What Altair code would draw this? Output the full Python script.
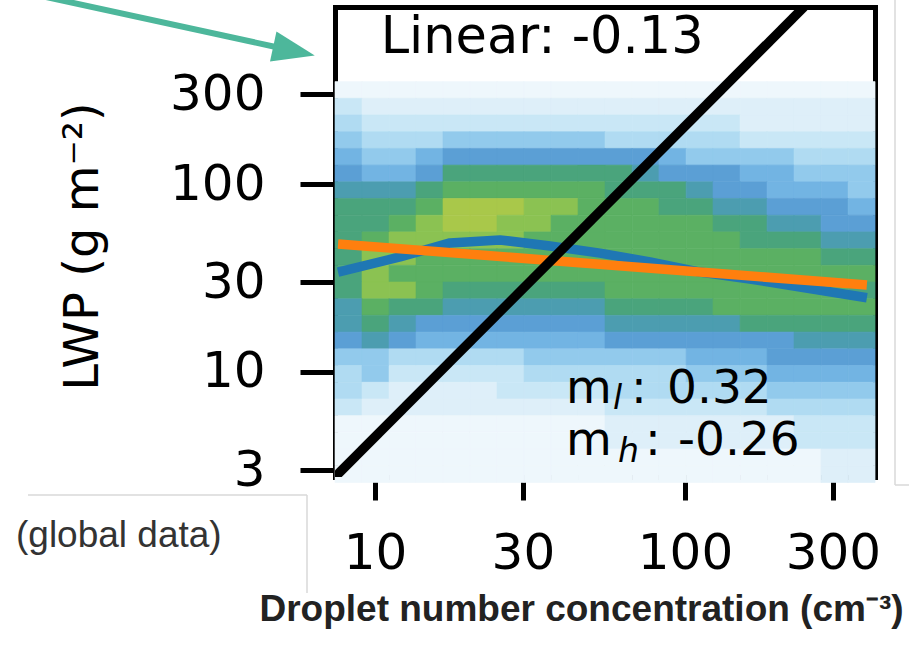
import altair as alt
import pandas as pd

# ---------------- data ----------------
# 2-D histogram bin edges (log spaced), Nd in cm^-3 and LWP in g m^-2
nd_edges = [7.43, 9.08, 11.10, 13.56, 16.57, 20.25, 24.75, 30.25, 36.97, 45.17,
            55.2, 67.5, 82.4, 100.8, 123.1, 150.5, 183.9, 224.7, 274.7, 335.7, 410.2]
lwp_edges = [795.6, 648.1, 528.2, 430.5, 351.0, 285.9, 233.0, 189.9, 154.7, 126.1,
             102.8, 83.75, 68.2, 55.6, 45.3, 36.9, 30.1, 24.5, 20.0, 16.3,
             13.27, 10.82, 8.81, 7.18, 5.85, 4.77, 3.89, 3.17, 2.58]
# density level per cell (hex digit 0..c), one string per LWP row (top -> bottom)
density_rows = [
    "00000000000000000000",
    "00000000000000000000",
    "00000000000000000000",
    "00000000000000000000",
    "11111111111111111111",
    "32222222222222222222",
    "43333333333333322222",
    "54445555554444433333",
    "65567777777765555444",
    "76679999999877766555",
    "8889aaaaaa9998776665",
    "999acccbbaaa99887776",
    "99abccbbaaaaaa998877",
    "9abbbbbaaaaaaaa99988",
    "9bbaaaaaaaaaaaaaaa99",
    "9baaaaaaaaaaaaaaaaaa",
    "9bba999999aaaaaaaaa9",
    "8a998888889999aaaaaa",
    "89877777778888899999",
    "78766666667777777888",
    "55444445555556667777",
    "45333334444445556666",
    "43222233334444445555",
    "32222222223333334444",
    "11111111112222222333",
    "11111111112222222333",
    "11111111111111111122",
    "11111111111111111122",
]
level_colors = ["#ffffff", "#eef7fc", "#deeff9", "#c9e7f6", "#b0dbf2", "#92caec",
                "#72b4e3", "#5b9fd5", "#4c9db0", "#4aa47c", "#5bb063", "#8bc252", "#a9c84a"]

# binned-mean curve (blue)
blue_nd = [7.60, 12.04, 17.46, 25.3, 36.7, 53.2, 77.1, 111.7, 162.0, 235.0, 386.0]
blue_lwp = [34.0, 40.9, 48.6, 50.4, 46.8, 42.9, 38.5, 34.0, 31.2, 28.3, 24.8]
# linear fit (orange)
orange_nd = [7.6, 386.0]
orange_lwp = [48.0, 29.0]
# reference line (black)
black_nd = [7.43, 242.0]
black_lwp = [2.76, 875.0]

nd_ticks = [10, 30, 100, 300]
lwp_ticks = [3, 10, 30, 100, 300]

linear_label = "Linear: -0.13"
ml_value = "0.32"
mh_value = "-0.26"

# ---------------- tables ----------------
cells = []
for j, row in enumerate(density_rows):
    for k, ch in enumerate(row):
        lev = int(ch, 16)
        if lev == 0:
            continue
        cells.append({"nd0": nd_edges[k], "nd1": nd_edges[k + 1],
                      "lwp0": lwp_edges[j], "lwp1": lwp_edges[j + 1], "level": lev})
heat_df = pd.DataFrame(cells)
blue_df = pd.DataFrame({"nd": blue_nd, "lwp": blue_lwp})
orange_df = pd.DataFrame({"nd": orange_nd, "lwp": orange_lwp})
black_df = pd.DataFrame({"nd": black_nd, "lwp": black_lwp})

xs = alt.Scale(type="log", domain=[7.43, 410], nice=False)
ys = alt.Scale(type="log", domain=[2.76, 875], nice=False)
cs = alt.Scale(domain=list(range(len(level_colors))), range=level_colors)

FONT = "DejaVu Sans"

heat = alt.Chart(heat_df).mark_rect(strokeWidth=0.6).encode(
    x=alt.X("nd0:Q", scale=xs, axis=alt.Axis(
        orient="bottom", values=nd_ticks, format="d", tickSize=23, labelPadding=28,
        title="Droplet number concentration (cm\u207b\u00b3)",
        titleFont="Liberation Sans",
        titleFontSize=37, titleFontWeight="bold", titleColor="#222222",
        titleX=246, titleY=143, titleAlign="center", titleBaseline="alphabetic")),
    x2="nd1:Q",
    y=alt.Y("lwp0:Q", scale=ys, axis=alt.Axis(
        orient="left", values=lwp_ticks, format="d", tickSize=35, labelPadding=35,
        title="LWP (g m\u207b\u00b2)", titleFont=FONT, titleFontSize=48,
        titleFontWeight="normal", titleColor="black", titleAngle=270,
        titleX=-238, titleY=239, titleAlign="center", titleBaseline="alphabetic")),
    y2="lwp1:Q",
    color=alt.Color("level:Q", scale=cs, legend=None),
    stroke=alt.Stroke("level:Q", scale=cs, legend=None),
)

blue = alt.Chart(blue_df).mark_line(color="#1f77b4", strokeWidth=9.5, clip=True,
                                    strokeCap="butt", strokeJoin="round").encode(
    x=alt.X("nd:Q", scale=xs, axis=None),
    y=alt.Y("lwp:Q", scale=ys, axis=None),
)

orange = alt.Chart(orange_df).mark_line(color="#ff7f0e", strokeWidth=9.5, clip=True,
                                        strokeCap="butt").encode(
    x=alt.X("nd:Q", scale=xs, axis=alt.Axis(orient="top", labels=False, ticks=False,
                                            title=None, grid=False)),
    y=alt.Y("lwp:Q", scale=ys, axis=alt.Axis(orient="right", labels=False, ticks=False,
                                             title=None, grid=False)),
)

black = alt.Chart(black_df).mark_line(color="black", strokeWidth=9.5, clip=True).encode(
    x=alt.X("nd:Q", scale=xs, axis=None),
    y=alt.Y("lwp:Q", scale=ys, axis=None),
)

lin_df = pd.DataFrame({"nd": [34.6], "lwp": [498.0], "t": [linear_label]})
lin_txt = alt.Chart(lin_df).mark_text(font=FONT, fontSize=51, align="center",
                                      baseline="alphabetic", color="black").encode(
    x=alt.X("nd:Q", scale=xs, axis=None), y=alt.Y("lwp:Q", scale=ys, axis=None), text="t:N")

m_df = pd.DataFrame({
    "nd": [41.3, 67.0, 87.5, 41.3, 74.3, 95.0],
    "lwp": [6.80, 6.80, 6.80, 3.62, 3.62, 3.62],
    "t": ["m", ":", ml_value, "m", ":", mh_value],
})
m_txt = alt.Chart(m_df).mark_text(font=FONT, fontSize=47, align="left",
                                  baseline="alphabetic", color="black").encode(
    x=alt.X("nd:Q", scale=xs, axis=None), y=alt.Y("lwp:Q", scale=ys, axis=None), text="t:N")

sub_df = pd.DataFrame({"nd": [58.6, 60.8], "lwp": [6.35, 3.32], "t": ["l", "h"]})
sub_txt = alt.Chart(sub_df).mark_text(font=FONT, fontSize=33, fontStyle="italic",
                                      align="left", baseline="alphabetic", color="black").encode(
    x=alt.X("nd:Q", scale=xs, axis=None), y=alt.Y("lwp:Q", scale=ys, axis=None), text="t:N")

one = pd.DataFrame({"a": [0]})

glob_txt = alt.Chart(one).mark_text(font="Liberation Sans", fontSize=37, align="left",
                                    baseline="alphabetic", color="#333333",
                                    text="(global data)").encode(
    x=alt.value(-319), y=alt.value(540))

gray = "#d9d9d9"
r1 = alt.Chart(one).mark_rule(color=gray, strokeWidth=1.5).encode(
    x=alt.value(-307), x2=alt.value(-28), y=alt.value(488))
r2 = alt.Chart(one).mark_rule(color=gray, strokeWidth=1.5).encode(
    x=alt.value(-28), y=alt.value(488), y2=alt.value(586))
r3 = alt.Chart(one).mark_rule(color=gray, strokeWidth=1.5).encode(
    x=alt.value(560), y=alt.value(-7), y2=alt.value(478))
r4 = alt.Chart(one).mark_rule(color=gray, strokeWidth=1.5).encode(
    x=alt.value(560), x2=alt.value(574), y=alt.value(478))

teal = "#4db79b"
arrow_line = alt.Chart(one).mark_rule(color=teal, strokeWidth=6).encode(
    x=alt.value(-289), y=alt.value(-10), x2=alt.value(-50), y2=alt.value(42))
arrow_head = alt.Chart(one).mark_point(shape="M-1,-0.72L1,0L-1,0.72Z", filled=True,
                                       size=1806, angle=12.2, color=teal, opacity=1).encode(
    x=alt.value(-41), y=alt.value(44))

chart = alt.layer(
    heat, blue, orange, black, lin_txt, m_txt, sub_txt,
    glob_txt, r1, r2, r3, r4, arrow_line, arrow_head
).resolve_axis(
    x="independent", y="independent"
).properties(
    width=540, height=470,
    autosize=alt.AutoSizeParams(type="none"),
    padding={"left": 335, "top": 7, "right": 34, "bottom": 169},
    background="white",
).configure_view(
    stroke=None
).configure_axis(
    domainColor="black", domainWidth=5, domainCap="square",
    tickColor="black", tickWidth=5, grid=False,
    labelFont=FONT, labelFontSize=50, labelColor="black",
    labelOverlap=False, labelBound=False, labelFlush=False, zindex=1,
)

chart.save("out.html", embed_options={"renderer": "svg", "actions": False})
